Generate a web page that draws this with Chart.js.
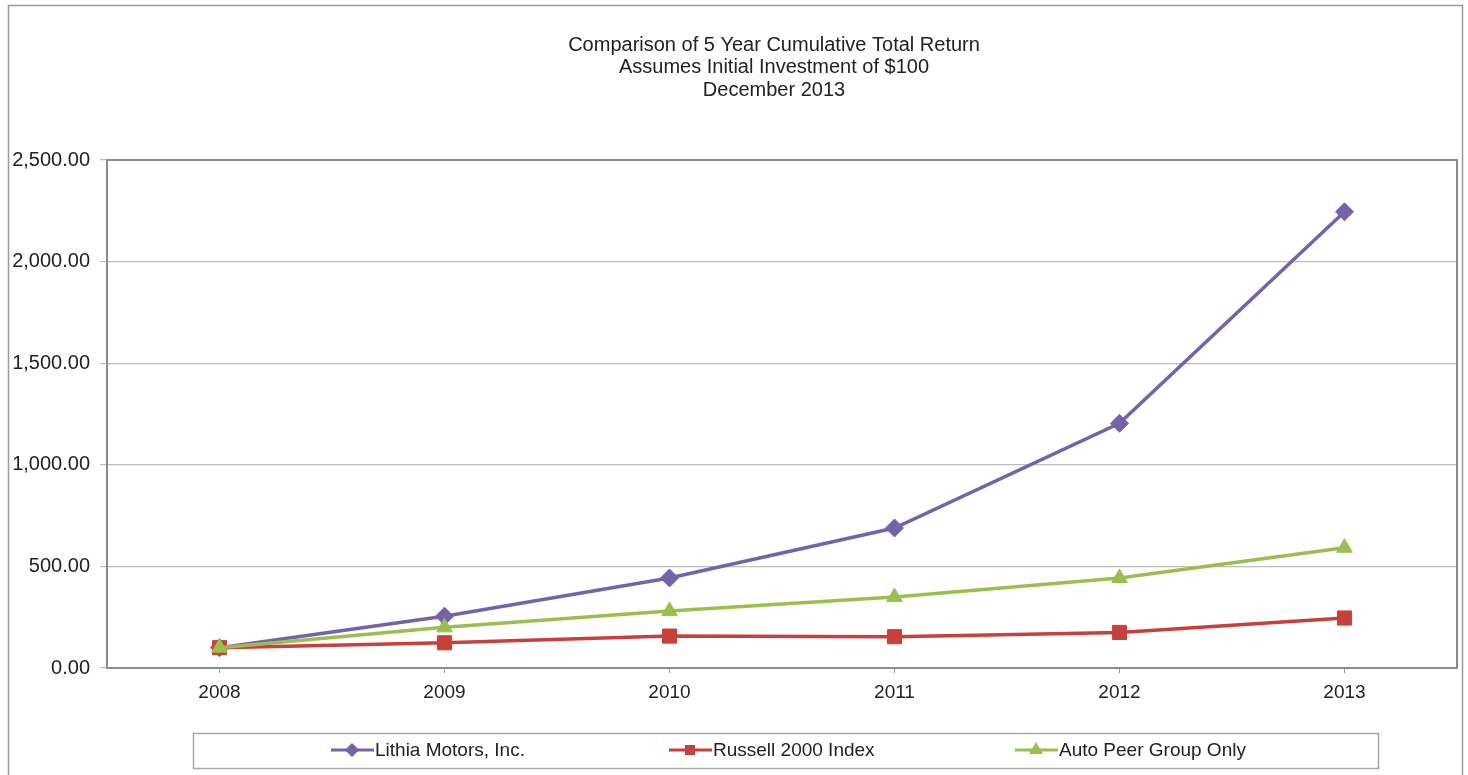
<!DOCTYPE html>
<html>
<head>
<meta charset="utf-8">
<script src="https://cdn.jsdelivr.net/npm/chart.js@4/dist/chart.umd.min.js"></script>
<style>
  html, body { margin: 0; padding: 0; background: #fff; }
  #wrap { width: 1468px; height: 775px; position: relative; }
</style>
</head>
<body>
<div id="wrap"><canvas id="chart" width="1468" height="775"></canvas></div>
<script>
const years = ['2008', '2009', '2010', '2011', '2012', '2013'];
const lithia = [100, 255, 443, 689, 1204, 2245];
const russell = [100, 124, 157, 154, 175, 246];
const autoPeer = [100, 200, 280, 349, 443, 592];
const titleLines = ['Comparison of 5 Year Cumulative Total Return', 'Assumes Initial Investment of $100', 'December 2013'];
const seriesNames = ['Lithia Motors, Inc.', 'Russell 2000 Index', 'Auto Peer Group Only'];

const FONT = '"Liberation Sans", Arial, sans-serif';
const purple = '#7462AA';
const red = '#C8403C';
const green = '#9BBF4E';

// page frame, title, plot border and legend box
const decorPlugin = {
    id: 'decor',
    beforeDraw(chart) {
        const ctx = chart.ctx;
        ctx.save();
        ctx.strokeStyle = '#9a9a9a';
        ctx.lineWidth = 1.5;
        ctx.beginPath();
        ctx.moveTo(8.5, 775);
        ctx.lineTo(8.5, 5.5);
        ctx.lineTo(1462.5, 5.5);
        ctx.lineTo(1462.5, 775);
        ctx.stroke();

        ctx.fillStyle = '#222';
        ctx.font = '20px ' + FONT;
        ctx.textAlign = 'center';
        ctx.textBaseline = 'middle';
        titleLines.forEach((t, i) => ctx.fillText(t, 774, 45 + i * 22.7));
        ctx.restore();
    },
    afterDraw(chart) {
        const ctx = chart.ctx;
        const a = chart.chartArea;
        ctx.save();
        ctx.strokeStyle = '#8c8c8c';
        ctx.lineWidth = 2;
        ctx.strokeRect(a.left, a.top, a.right - a.left, a.bottom - a.top);

        // legend box
        ctx.strokeStyle = '#a8a8a8';
        ctx.lineWidth = 1.5;
        ctx.strokeRect(193.5, 733.5, 1185, 35);
        const starts = [331, 669, 1015];
        const cols = [purple, red, green];
        const shapes = ['rectRot', 'rect', 'triangle'];
        ctx.font = '19px ' + FONT;
        ctx.textBaseline = 'middle';
        ctx.textAlign = 'left';
        for (let i = 0; i < 3; i++) {
            const x = starts[i], y = 750;
            ctx.strokeStyle = cols[i];
            ctx.lineWidth = 3;
            ctx.beginPath();
            ctx.moveTo(x, y);
            ctx.lineTo(x + 43, y);
            ctx.stroke();
            ctx.fillStyle = cols[i];
            Chart.helpers.drawPoint(ctx, { pointStyle: shapes[i], radius: 5, borderWidth: 1 }, x + 21, y);
            ctx.fill();
            ctx.fillStyle = '#222';
            ctx.fillText(seriesNames[i], x + 44, y + 1);
        }
        ctx.restore();
    }
};

function ds(label, data, color, style, radius, order) {
    return {
        label: label,
        data: data,
        borderColor: color,
        backgroundColor: color,
        borderWidth: 3.5,
        pointStyle: style,
        pointRadius: radius,
        pointBorderWidth: 1,
        pointBackgroundColor: color,
        pointBorderColor: color,
        tension: 0,
        order: order
    };
}

new Chart(document.getElementById('chart'), {
    type: 'line',
    data: {
        labels: years,
        datasets: [
            ds(seriesNames[0], lithia, purple, 'rectRot', 9, 2),
            ds(seriesNames[1], russell, red, 'rect', 10, 1),
            ds(seriesNames[2], autoPeer, green, 'triangle', 9, 0)
        ]
    },
    options: {
        responsive: false,
        animation: false,
        layout: { padding: { left: 0, right: 11, top: 160, bottom: 67 } },
        plugins: {
            legend: { display: false },
            title: { display: false },
            tooltip: { enabled: false }
        },
        scales: {
            x: {
                offset: true,
                grid: { offset: false, drawOnChartArea: false, drawTicks: true, tickLength: 5, color: '#9a9a9a' },
                border: { display: true, color: '#8c8c8c', width: 2 },
                ticks: { color: '#222', font: { family: FONT, size: 19 }, padding: 8 },
                afterFit(scale) { scale.height = 40; }
            },
            y: {
                min: 0,
                max: 2500,
                ticks: {
                    stepSize: 500,
                    color: '#222',
                    font: { family: FONT, size: 20 },
                    padding: 10,
                    callback: v => v.toLocaleString('en-US', { minimumFractionDigits: 2, maximumFractionDigits: 2 })
                },
                grid: { color: '#bdbdbd', lineWidth: 1.2, tickLength: 7 },
                border: { display: true, color: '#8c8c8c', width: 2 },
                afterFit(scale) { scale.width = 107; }
            }
        }
    },
    plugins: [decorPlugin]
});
</script>
</body>
</html>
